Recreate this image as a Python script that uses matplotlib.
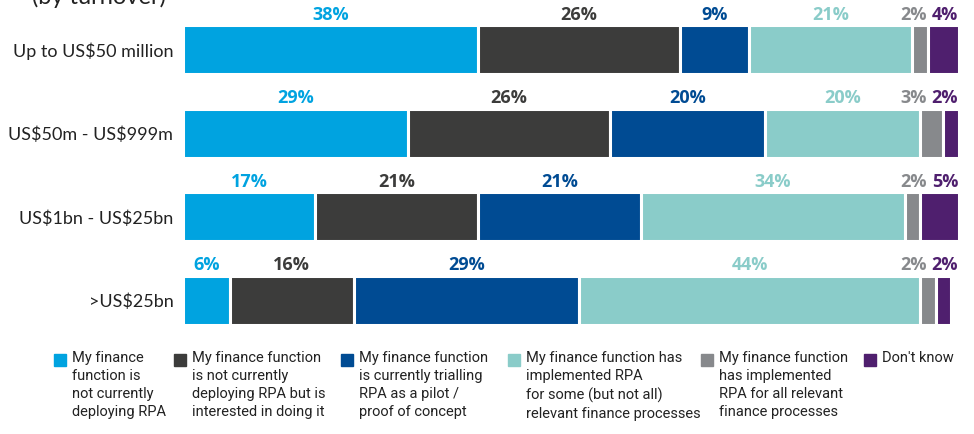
import matplotlib.pyplot as plt
from matplotlib.patches import Rectangle
import numpy as np

plt.rcParams["text.parse_math"] = False

categories = ["Up to US$50 million", "US$50m - US$999m", "US$1bn - US$25bn", ">US$25bn"]
not_deploying = [38, 29, 17, 6]
interested = [26, 26, 21, 16]
trialling = [9, 20, 21, 29]
implemented_some = [21, 20, 34, 44]
implemented_all = [2, 3, 2, 2]
dont_know = [4, 2, 5, 2]

series = [not_deploying, interested, trialling, implemented_some, implemented_all, dont_know]
colors = ["#00A3E0", "#3C3C3B", "#004B93", "#8ACCC9", "#87898C", "#4F1F6E"]
legend_labels = [
    "My finance\nfunction is\nnot currently\ndeploying RPA",
    "My finance function\nis not currently\ndeploying RPA but is\ninterested in doing it",
    "My finance function\nis currently trialling\nRPA as a pilot /\nproof of concept",
    "My finance function has\nimplemented RPA\nfor some (but not all)\nrelevant finance processes",
    "My finance function\nhas implemented\nRPA for all relevant\nfinance processes",
    "Don't know",
]

W, H = 974, 434
fig = plt.figure(figsize=(W / 100, H / 100), dpi=100)
ax = fig.add_axes([183 / W, 1 - 342 / H, 776 / W, (342 - 8) / H])

lab_kw = dict(fontsize=13, fontweight="bold", family="Open Sans")
y = np.arange(len(categories))
left = np.zeros(len(categories))
for i, (vals, c) in enumerate(zip(series, colors)):
    vals = np.array(vals, dtype=float)
    ax.barh(y, vals, left=left, height=0.59, color=c, edgecolor="white", linewidth=2.2)
    for yi, l, v in zip(y, left, vals):
        txt = f"{int(v)}%"
        if i == 5:
            # small end segments: labels packed against the bar end
            ax.annotate(txt, (100, yi - 0.31), xytext=(-1, 0), textcoords="offset pixels",
                        ha="right", va="bottom", color=c, **lab_kw)
        elif i == 4:
            ax.annotate(txt, (100, yi - 0.31), xytext=(-32, 0), textcoords="offset pixels",
                        ha="right", va="bottom", color=c, **lab_kw)
        else:
            ax.text(l + v / 2, yi - 0.31, txt, ha="center", va="bottom", color=c, **lab_kw)
    left += vals

ax.set_xlim(0, 100)
ax.set_ylim(3.5, -0.5)
ax.set_yticks(y)
ax.set_yticklabels(categories, fontsize=13, family="Lato", color="#222222")
ax.tick_params(axis="y", length=0, pad=7)
ax.set_xticks([])
for s in ax.spines.values():
    s.set_visible(False)

fig.text(32 / W, 1 - 4 / H, "(by turnover)", fontsize=17, family="Lato",
         color="#222222", va="baseline")

# legend
leg_x = [54, 174, 341, 508, 701, 864]
for xp, c, lab in zip(leg_x, colors, legend_labels):
    fig.patches.append(Rectangle((xp / W, 1 - 366 / H), 12 / W, 12 / H,
                                 transform=fig.transFigure, color=c))
    fig.text((xp + 18) / W, 1 - 351 / H, lab, fontsize=10.5, family="Roboto",
             color="#222222", va="top", ha="left", linespacing=1.36)

fig.savefig("out.png", dpi=100)
